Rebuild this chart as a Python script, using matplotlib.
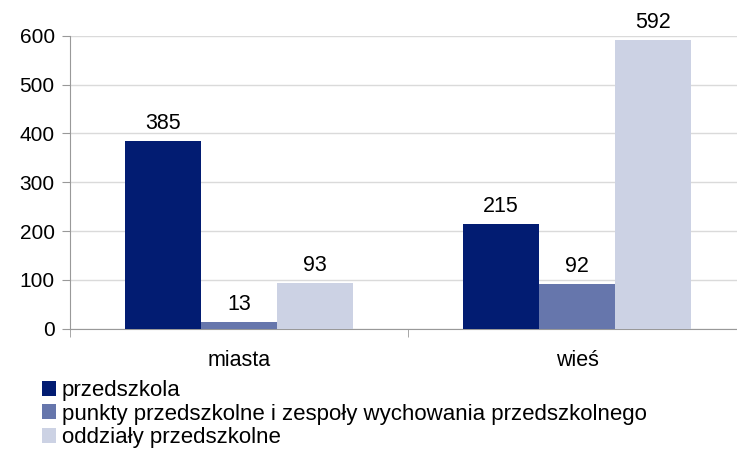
import matplotlib
matplotlib.use("Agg")
import matplotlib.pyplot as plt
import numpy as np

plt.rcParams['font.family'] = ['Liberation Sans', 'DejaVu Sans']

kategorie = ['miasta', 'wieś']
serie = ['przedszkola',
         'punkty przedszkolne i zespoły wychowania przedszkolnego',
         'oddziały przedszkolne']
przedszkola = [385, 215]
punkty = [13, 92]
oddzialy = [93, 592]
kolory = ['#021C72', '#6676AC', '#CCD2E4']

fig = plt.figure(figsize=(7.37, 4.54), dpi=100)
ax = fig.add_axes([70 / 737, 0.276, 676 / 737, 0.645])

x = np.arange(len(kategorie))
w = 0.225
for i, (vals, lab) in enumerate(zip([przedszkola, punkty, oddzialy], serie)):
    bars = ax.bar(x + (i - 1) * w, vals, w, color=kolory[i], label=lab, zorder=3)
    ax.bar_label(bars, padding=5, fontsize=15.5)

ax.set_xlim(-0.5, 1.5)
ax.set_ylim(0, 600)
ax.set_yticks(range(0, 601, 100))
ax.set_xticks(x)
ax.set_xticklabels(kategorie)
ax.set_xticks([-0.5, 0.5, 1.5], minor=True)
ax.tick_params(axis='x', which='major', length=0, pad=15, labelsize=15.5)
ax.tick_params(axis='x', which='minor', length=6, color='#999999')
ax.tick_params(axis='y', length=6, color='#999999', pad=5, labelsize=15)
ax.grid(axis='y', color='#DADADA', linewidth=1, zorder=0)
for s in ['top', 'right']:
    ax.spines[s].set_visible(False)
ax.spines['left'].set_color('#999999')
ax.spines['bottom'].set_color('#999999')

fig.legend(loc='upper left', bbox_to_anchor=(42 / 737, 1 - 380 / 454),
           frameon=False, fontsize=16, handlelength=0.65, handleheight=0.65,
           handletextpad=0.25, labelspacing=0.12, borderaxespad=0, borderpad=0)

fig.savefig('out.png', dpi=100)
